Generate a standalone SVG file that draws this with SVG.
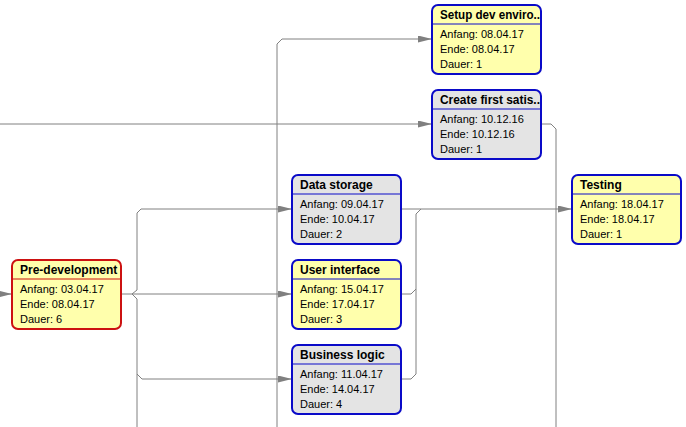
<svg xmlns="http://www.w3.org/2000/svg" width="686" height="427" viewBox="0 0 686 427">
<style>
.bg{fill:#ffffff}
.conn path{fill:none;stroke:#808080;stroke-width:1}
.box{stroke:#0a0ac8;stroke-width:2}
.crit{stroke:#cc1111}
.yel{fill:#ffffac}
.gry{fill:#e4e4e4}
.div{stroke:#0a0ac8;stroke-width:1}
.critdiv{stroke:#cc1111}
.t{font-family:"Liberation Sans",Arial,sans-serif;font-size:12px;font-weight:bold;fill:#000}
.b{font-family:"Liberation Sans",Arial,sans-serif;font-size:11px;fill:#000}
</style>
<defs>
<marker id="arr" markerUnits="userSpaceOnUse" markerWidth="14" markerHeight="8" refX="14" refY="3.5" orient="auto">
<path d="M0,0 L14,3.5 L0,7 z" fill="#808080"/>
</marker>
</defs>
<rect class="bg" x="0" y="0" width="686" height="427"/>
<g id="connectors" class="conn">
<path d="M0,294 H12" marker-end="url(#arr)"/>
<path d="M0,124 H432" marker-end="url(#arr)"/>
<path d="M277,427 V44 L282,39 H432" marker-end="url(#arr)"/>
<path d="M121,294 H292" marker-end="url(#arr)"/>
<path d="M137,427 V299 L132,294 L137,290 V213 L141,209 H292" marker-end="url(#arr)"/>
<path d="M137,374 L142,379 H292" marker-end="url(#arr)"/>
<path d="M541,124 H551 L556,129 V427"/>
<path d="M401,209 H572" marker-end="url(#arr)"/>
<path d="M401,294 H411 L416,289 V214 L421,209"/>
<path d="M401,379 H411 L416,374 V289"/>
</g>
<g id="setup">
<rect class="box yel" x="432" y="5" width="109" height="69" rx="6"/>
<line class="div" x1="432" y1="24" x2="541" y2="24"/>
<text class="t" x="440" y="19" textLength="100" lengthAdjust="spacingAndGlyphs">Setup dev enviro..</text>
<text class="b" x="440" y="38">Anfang: 08.04.17</text>
<text class="b" x="440" y="53">Ende: 08.04.17</text>
<text class="b" x="440" y="68">Dauer: 1</text>
</g>
<g id="create">
<rect class="box gry" x="432" y="90" width="109" height="69" rx="6"/>
<line class="div" x1="432" y1="109" x2="541" y2="109"/>
<text class="t" x="440" y="104" textLength="100" lengthAdjust="spacingAndGlyphs">Create first satis..</text>
<text class="b" x="440" y="123">Anfang: 10.12.16</text>
<text class="b" x="440" y="138">Ende: 10.12.16</text>
<text class="b" x="440" y="153">Dauer: 1</text>
</g>
<g id="datastorage">
<rect class="box gry" x="292" y="175" width="109" height="69" rx="6"/>
<line class="div" x1="292" y1="194" x2="401" y2="194"/>
<text class="t" x="300" y="189">Data storage</text>
<text class="b" x="300" y="208">Anfang: 09.04.17</text>
<text class="b" x="300" y="223">Ende: 10.04.17</text>
<text class="b" x="300" y="238">Dauer: 2</text>
</g>
<g id="userinterface">
<rect class="box yel" x="292" y="260" width="109" height="69" rx="6"/>
<line class="div" x1="292" y1="279" x2="401" y2="279"/>
<text class="t" x="300" y="274">User interface</text>
<text class="b" x="300" y="293">Anfang: 15.04.17</text>
<text class="b" x="300" y="308">Ende: 17.04.17</text>
<text class="b" x="300" y="323">Dauer: 3</text>
</g>
<g id="businesslogic">
<rect class="box gry" x="292" y="345" width="109" height="69" rx="6"/>
<line class="div" x1="292" y1="364" x2="401" y2="364"/>
<text class="t" x="300" y="359">Business logic</text>
<text class="b" x="300" y="378">Anfang: 11.04.17</text>
<text class="b" x="300" y="393">Ende: 14.04.17</text>
<text class="b" x="300" y="408">Dauer: 4</text>
</g>
<g id="predevelopment">
<rect class="box crit yel" x="12" y="260" width="109" height="69" rx="6"/>
<line class="div critdiv" x1="12" y1="279" x2="121" y2="279"/>
<text class="t" x="20" y="274">Pre-development</text>
<text class="b" x="20" y="293">Anfang: 03.04.17</text>
<text class="b" x="20" y="308">Ende: 08.04.17</text>
<text class="b" x="20" y="323">Dauer: 6</text>
</g>
<g id="testing">
<rect class="box yel" x="572" y="175" width="109" height="69" rx="6"/>
<line class="div" x1="572" y1="194" x2="681" y2="194"/>
<text class="t" x="580" y="189">Testing</text>
<text class="b" x="580" y="208">Anfang: 18.04.17</text>
<text class="b" x="580" y="223">Ende: 18.04.17</text>
<text class="b" x="580" y="238">Dauer: 1</text>
</g>
</svg>
